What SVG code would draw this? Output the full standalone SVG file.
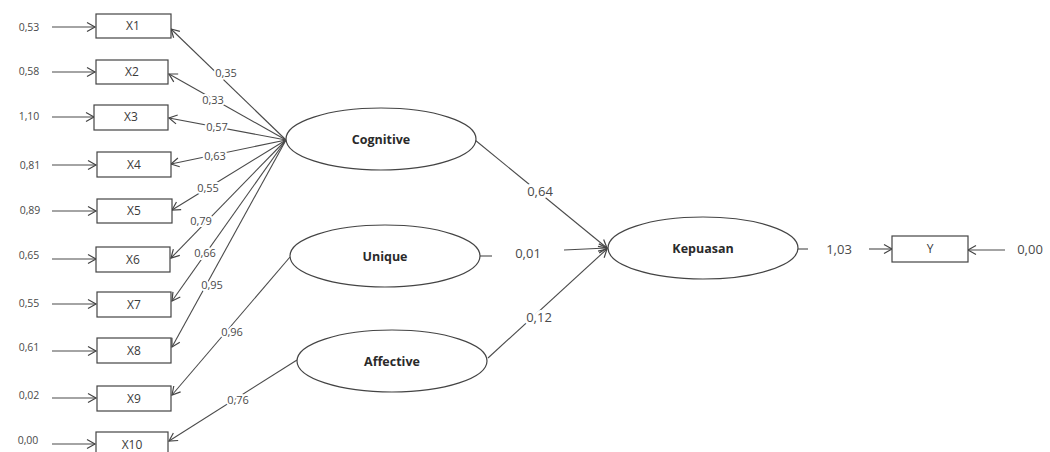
<svg xmlns="http://www.w3.org/2000/svg" width="1050" height="452" viewBox="0 0 1050 452">
<defs>
<marker id="arr" markerUnits="userSpaceOnUse" markerWidth="12" markerHeight="12" viewBox="-10 -6 12 12" refX="0" refY="0" orient="auto">
<path d="M-8,-4.5 L0,0 L-8,4.5" fill="none" stroke="#444" stroke-width="1.2"/>
</marker>
<style>
.ln{stroke:#4a4a4a;stroke-width:1.1;fill:none}
.box{fill:#fff;stroke:#444;stroke-width:1.2}
.ell{fill:#fff;stroke:#444;stroke-width:1.2}
.bl{font-family:"Open Sans","Liberation Sans",sans-serif;font-size:12px;fill:#3a3a3a;text-anchor:middle}
.el{font-family:"Open Sans","Liberation Sans",sans-serif;font-size:12.5px;font-weight:bold;fill:#2a2a2a;text-anchor:middle}
.sm{font-family:"Open Sans","Liberation Sans",sans-serif;font-size:10.5px;fill:#4a4a4a;text-anchor:middle}
.ld{font-family:"Open Sans","Liberation Sans",sans-serif;font-size:11px;fill:#4a4a4a;text-anchor:middle;stroke:#fff;stroke-width:4;paint-order:stroke;stroke-linejoin:round}
.pl{font-family:"Open Sans","Liberation Sans",sans-serif;font-size:13px;fill:#4a4a4a;text-anchor:middle;stroke:#fff;stroke-width:6;paint-order:stroke;stroke-linejoin:round}
</style>
</defs>
<rect width="1050" height="452" fill="#fff"/>
<g id="connectors">
<line class="ln" x1="52" y1="27" x2="95" y2="27" marker-end="url(#arr)"/>
<line class="ln" x1="52" y1="72" x2="95" y2="72" marker-end="url(#arr)"/>
<line class="ln" x1="52" y1="117" x2="94" y2="117" marker-end="url(#arr)"/>
<line class="ln" x1="52" y1="165" x2="96" y2="165" marker-end="url(#arr)"/>
<line class="ln" x1="52" y1="211" x2="96" y2="211" marker-end="url(#arr)"/>
<line class="ln" x1="52" y1="259" x2="96" y2="259" marker-end="url(#arr)"/>
<line class="ln" x1="52" y1="304" x2="96" y2="304" marker-end="url(#arr)"/>
<line class="ln" x1="52" y1="351" x2="96" y2="351" marker-end="url(#arr)"/>
<line class="ln" x1="52" y1="398" x2="96" y2="398" marker-end="url(#arr)"/>
<line class="ln" x1="52" y1="444" x2="95" y2="444" marker-end="url(#arr)"/>
<line class="ln" x1="286" y1="140" x2="171" y2="29" marker-end="url(#arr)"/>
<line class="ln" x1="286" y1="140" x2="169" y2="74" marker-end="url(#arr)"/>
<line class="ln" x1="286" y1="140" x2="169" y2="118" marker-end="url(#arr)"/>
<line class="ln" x1="286" y1="140" x2="171" y2="164" marker-end="url(#arr)"/>
<line class="ln" x1="286" y1="140" x2="172" y2="210" marker-end="url(#arr)"/>
<line class="ln" x1="286" y1="140" x2="171" y2="258" marker-end="url(#arr)"/>
<line class="ln" x1="286" y1="140" x2="172" y2="301" marker-end="url(#arr)"/>
<line class="ln" x1="286" y1="140" x2="172" y2="347" marker-end="url(#arr)"/>
<line class="ln" x1="290" y1="257" x2="172" y2="395" marker-end="url(#arr)"/>
<line class="ln" x1="297" y1="360" x2="169" y2="441" marker-end="url(#arr)"/>
<line class="ln" x1="475" y1="140" x2="607" y2="248" marker-end="url(#arr)"/>
<line class="ln" x1="480" y1="256" x2="492" y2="256"/>
<line class="ln" x1="564" y1="250" x2="607" y2="248" marker-end="url(#arr)"/>
<line class="ln" x1="488" y1="358" x2="607" y2="249" marker-end="url(#arr)"/>
<line class="ln" x1="798" y1="249" x2="808" y2="249"/>
<line class="ln" x1="869" y1="249" x2="892" y2="249" marker-end="url(#arr)"/>
<line class="ln" x1="1005" y1="250" x2="968" y2="250" marker-end="url(#arr)"/>
<text class="ld" x="226" y="77">0,35</text>
<text class="ld" x="213" y="104">0,33</text>
<text class="ld" x="217" y="131">0,57</text>
<text class="ld" x="215" y="160">0,63</text>
<text class="ld" x="208" y="192">0,55</text>
<text class="ld" x="201" y="225">0,79</text>
<text class="ld" x="205" y="257">0,66</text>
<text class="ld" x="212" y="289">0,95</text>
<text class="ld" x="232" y="336">0,96</text>
<text class="ld" x="238" y="404">0,76</text>
<text class="pl" x="540" y="196">0,64</text>
<text class="pl" x="528" y="258">0,01</text>
<text class="pl" x="539" y="322">0,12</text>
<text class="pl" x="839" y="254">1,03</text>
</g>
<g id="err-labels">
<text class="sm" x="29" y="31">0,53</text>
<text class="sm" x="29" y="75">0,58</text>
<text class="sm" x="29" y="120">1,10</text>
<text class="sm" x="30" y="169">0,81</text>
<text class="sm" x="30" y="214">0,89</text>
<text class="sm" x="29" y="259">0,65</text>
<text class="sm" x="29" y="307">0,55</text>
<text class="sm" x="29" y="351">0,61</text>
<text class="sm" x="29" y="399">0,02</text>
<text class="sm" x="28" y="444">0,00</text>
<text class="pl" x="1030" y="254">0,00</text>
</g>
<g id="X1"><rect class="box" x="96" y="14" width="75" height="24"/><text class="bl" x="133" y="30">X1</text></g>
<g id="X2"><rect class="box" x="96" y="60" width="72" height="24"/><text class="bl" x="132" y="76">X2</text></g>
<g id="X3"><rect class="box" x="94" y="105" width="74" height="25"/><text class="bl" x="131" y="121">X3</text></g>
<g id="X4"><rect class="box" x="97" y="152" width="74" height="25"/><text class="bl" x="134" y="169">X4</text></g>
<g id="X5"><rect class="box" x="97" y="199" width="75" height="24"/><text class="bl" x="134" y="215">X5</text></g>
<g id="X6"><rect class="box" x="96" y="247" width="74" height="25"/><text class="bl" x="133" y="264">X6</text></g>
<g id="X7"><rect class="box" x="97" y="292" width="74" height="25"/><text class="bl" x="134" y="309">X7</text></g>
<g id="X8"><rect class="box" x="97" y="338" width="74" height="25"/><text class="bl" x="134" y="355">X8</text></g>
<g id="X9"><rect class="box" x="97" y="386" width="74" height="25"/><text class="bl" x="134" y="403">X9</text></g>
<g id="X10"><rect class="box" x="96" y="432" width="72" height="25"/><text class="bl" x="132" y="449">X10</text></g>
<g id="Cognitive"><ellipse class="ell" cx="381" cy="139" rx="95" ry="31"/><text class="el" x="381" y="144">Cognitive</text></g>
<g id="Unique"><ellipse class="ell" cx="385" cy="256" rx="95" ry="31"/><text class="el" x="385" y="261">Unique</text></g>
<g id="Affective"><ellipse class="ell" cx="392" cy="361" rx="95" ry="31"/><text class="el" x="392" y="366">Affective</text></g>
<g id="Kepuasan"><ellipse class="ell" cx="703" cy="248" rx="95" ry="31"/><text class="el" x="703" y="253">Kepuasan</text></g>
<g id="Y"><rect class="box" x="892" y="236" width="76" height="26"/><text class="bl" x="930" y="253">Y</text></g>
</svg>
